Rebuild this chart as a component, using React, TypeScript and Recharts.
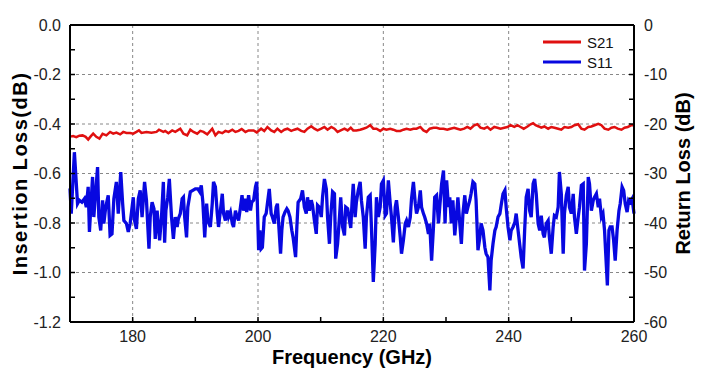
import React from 'react';
import { LineChart, Line, XAxis, YAxis, ReferenceLine, Legend } from 'recharts';

const FONT = "Arial, 'Liberation Sans', Helvetica, sans-serif";

// S21 insertion loss (dB), left axis
const s21Freq = [
  170.0, 170.5, 171.0, 171.5, 172.0, 172.5, 172.9, 173.3, 173.7, 174.2, 174.7, 175.2, 175.8, 176.4, 176.9, 177.4, 178.0, 178.5, 179.0, 179.6,
  180.1, 180.6, 181.0, 181.4, 182.2, 183.0, 183.8, 184.2, 184.9, 185.2, 185.7, 186.3, 186.8, 187.6, 188.1, 188.7, 189.2, 189.7, 190.3, 190.8,
  191.3, 191.9, 192.7, 193.2, 193.7, 194.3, 194.8, 195.3, 195.9, 196.4, 196.9, 197.4, 198.0, 198.5, 199.3, 199.8, 200.5, 201.0, 201.5, 202.1,
  202.6, 203.1, 203.7, 204.2, 204.7, 205.3, 205.8, 206.3, 206.9, 207.4, 207.9, 208.5, 209.0, 209.5, 210.1, 210.6, 211.1, 211.7, 212.2, 212.7,
  213.2, 213.8, 214.3, 214.8, 215.2, 215.7, 216.3, 216.8, 217.3, 217.9, 218.4, 218.9, 219.5, 220.0, 220.5, 221.1, 221.6, 222.1, 222.7, 223.2,
  223.7, 224.3, 224.8, 225.3, 225.9, 226.4, 226.9, 227.4, 228.0, 228.5, 229.0, 229.6, 230.2, 230.7, 231.3, 231.8, 232.3, 232.9, 233.4, 233.9,
  234.5, 235.0, 235.5, 236.1, 236.6, 237.1, 237.7, 238.2, 238.7, 239.3, 239.8, 240.3, 240.9, 241.4, 241.9, 242.4, 243.0, 243.5, 243.9, 244.3,
  244.8, 245.2, 245.7, 246.3, 246.8, 247.3, 247.9, 248.4, 248.9, 249.5, 250.0, 250.5, 251.1, 251.6, 252.1, 252.7, 253.2, 253.7, 254.3, 254.8,
  255.3, 255.9, 256.4, 256.9, 257.4, 258.0, 258.5, 259.0, 259.6, 260.0,
];
const s21Loss = [
  -0.451, -0.449, -0.453, -0.447, -0.446, -0.452, -0.463, -0.450, -0.439, -0.452, -0.459, -0.440, -0.446, -0.432, -0.439, -0.435, -0.442, -0.432, -0.436, -0.436,
  -0.439, -0.432, -0.426, -0.436, -0.432, -0.435, -0.432, -0.423, -0.432, -0.428, -0.437, -0.426, -0.432, -0.419, -0.439, -0.446, -0.423, -0.432, -0.439, -0.428,
  -0.432, -0.442, -0.419, -0.446, -0.432, -0.437, -0.428, -0.432, -0.423, -0.432, -0.428, -0.420, -0.432, -0.426, -0.426, -0.434, -0.419, -0.428, -0.412, -0.426,
  -0.432, -0.419, -0.432, -0.423, -0.419, -0.428, -0.423, -0.419, -0.428, -0.432, -0.419, -0.409, -0.419, -0.426, -0.419, -0.412, -0.423, -0.412, -0.419, -0.432,
  -0.426, -0.419, -0.426, -0.415, -0.426, -0.426, -0.423, -0.419, -0.415, -0.405, -0.419, -0.419, -0.428, -0.419, -0.423, -0.419, -0.423, -0.428, -0.428, -0.423,
  -0.419, -0.423, -0.419, -0.419, -0.412, -0.426, -0.432, -0.419, -0.415, -0.415, -0.419, -0.419, -0.423, -0.419, -0.415, -0.419, -0.423, -0.419, -0.412, -0.419,
  -0.405, -0.401, -0.415, -0.419, -0.412, -0.423, -0.412, -0.415, -0.419, -0.415, -0.412, -0.405, -0.412, -0.405, -0.412, -0.419, -0.410, -0.401, -0.397, -0.405,
  -0.410, -0.415, -0.410, -0.419, -0.412, -0.415, -0.419, -0.423, -0.412, -0.415, -0.412, -0.405, -0.401, -0.419, -0.423, -0.412, -0.410, -0.405, -0.399, -0.405,
  -0.419, -0.423, -0.415, -0.412, -0.419, -0.423, -0.415, -0.412, -0.405, -0.405,
];

// S11 return loss (dB), right axis
const s11Freq = [
  170.0, 170.2, 170.7, 171.2, 171.5, 171.9, 172.3, 172.6, 172.9, 173.1, 173.6, 173.8, 174.4, 174.6, 174.9, 175.2, 175.4, 175.7, 176.1, 176.4,
  176.7, 177.0, 177.4, 177.7, 178.1, 178.4, 178.6, 179.0, 179.3, 179.6, 180.1, 180.3, 180.6, 180.9, 181.2, 181.5, 181.9, 182.2, 182.6, 182.8,
  183.1, 183.4, 183.6, 183.9, 184.3, 184.6, 184.9, 185.1, 185.3, 185.6, 185.85, 186.2, 186.5, 186.8, 187.1, 187.3, 187.6, 187.9, 188.1, 188.3,
  188.6, 188.8, 189.2, 189.6, 190.0, 190.4, 190.7, 190.95, 191.2, 191.5, 191.8, 192.0, 192.4, 192.7, 192.9, 193.2, 193.5, 193.7, 194.0, 194.3,
  194.5, 194.8, 195.1, 195.3, 195.6, 195.9, 196.1, 196.4, 196.6, 196.9, 197.2, 197.45, 197.7, 198.0, 198.2, 198.5, 198.8, 199.0, 199.3, 199.6,
  199.8, 200.1, 200.3, 200.5, 200.7, 201.0, 201.3, 201.5, 201.8, 202.1, 202.3, 202.6, 202.9, 203.1, 203.4, 203.6, 203.8, 204.0, 204.3, 204.6,
  204.8, 205.1, 205.4, 205.6, 206.0, 206.2, 206.4, 206.8, 207.1, 207.4, 207.7, 207.9, 208.2, 208.5, 208.7, 209.0, 209.3, 209.5, 209.8, 210.1,
  210.3, 210.6, 210.9, 211.1, 211.4, 211.6, 211.9, 212.2, 212.4, 212.7, 213.0, 213.2, 213.5, 213.8, 214.0, 214.3, 214.6, 214.8, 215.0, 215.2,
  215.5, 215.7, 216.0, 216.3, 216.5, 216.8, 217.1, 217.3, 217.6, 217.9, 218.1, 218.4, 218.7, 218.9, 219.2, 219.5, 219.7, 220.0, 220.3, 220.5,
  220.8, 221.1, 221.3, 221.6, 221.9, 222.1, 222.4, 222.7, 222.9, 223.2, 223.5, 223.7, 224.0, 224.3, 224.5, 224.8, 225.1, 225.3, 225.6, 225.9,
  226.1, 226.4, 226.6, 226.9, 227.2, 227.4, 227.7, 228.0, 228.2, 228.5, 228.8, 229.0, 229.3, 229.6, 229.85, 230.1, 230.4, 230.6, 230.85, 231.1,
  231.4, 231.65, 231.9, 232.2, 232.45, 232.7, 233.0, 233.25, 233.5, 233.8, 234.0, 234.3, 234.6, 234.8, 235.1, 235.4, 235.6, 235.9, 236.2, 236.4,
  236.7, 237.0, 237.2, 237.5, 237.8, 238.0, 238.3, 238.6, 238.8, 239.1, 239.4, 239.6, 239.9, 240.2, 240.4, 240.7, 241.0, 241.2, 241.5, 241.75,
  242.0, 242.3, 242.55, 242.8, 243.1, 243.35, 243.6, 243.9, 244.15, 244.4, 244.7, 244.95, 245.2, 245.5, 245.7, 246.0, 246.3, 246.5, 246.8, 247.1,
  247.3, 247.6, 247.9, 248.1, 248.4, 248.7, 248.9, 249.2, 249.5, 249.7, 250.0, 250.3, 250.5, 250.8, 251.1, 251.3, 251.6, 251.9, 252.1, 252.4,
  252.7, 252.9, 253.2, 253.5, 253.7, 254.0, 254.3, 254.5, 254.8, 255.05, 255.3, 255.6, 255.75, 256.0, 256.2, 256.5, 256.75, 257.0, 257.3, 257.6,
  257.8, 258.1, 258.35, 258.6, 258.9, 259.15, 259.4, 259.7, 260.0,
];
const s11Loss = [
  -33.0, -38.1, -25.7, -36.1, -35.4, -35.8, -35.1, -36.8, -32.7, -41.8, -30.7, -38.8, -28.7, -38.8, -41.5, -35.4, -40.1, -36.8, -34.4, -42.5,
  -42.2, -35.1, -31.7, -38.1, -29.7, -36.1, -39.5, -40.1, -41.8, -40.1, -34.8, -39.5, -41.2, -35.1, -33.4, -38.8, -31.7, -35.4, -45.2, -38.8,
  -35.8, -37.1, -43.2, -37.5, -43.5, -38.8, -31.7, -44.0, -37.5, -34.8, -31.1, -38.8, -43.2, -38.8, -40.8, -39.1, -38.1, -35.1, -34.8, -38.8,
  -42.9, -36.8, -33.7, -33.4, -33.1, -33.1, -33.7, -32.4, -35.8, -42.9, -36.1, -39.5, -40.8, -36.1, -31.7, -32.7, -38.1, -40.8, -37.5, -34.1,
  -38.1, -39.5, -37.5, -38.8, -37.8, -40.1, -40.8, -37.5, -38.5, -39.5, -36.8, -34.4, -37.5, -35.1, -37.8, -34.4, -37.5, -35.8, -35.4, -32.7,
  -31.7, -45.5, -41.5, -45.2, -44.9, -38.8, -38.1, -36.1, -33.1, -38.1, -38.8, -40.1, -36.8, -36.1, -42.2, -46.2, -41.5, -38.8, -37.8, -37.1,
  -37.5, -38.8, -41.5, -42.9, -46.9, -40.8, -35.8, -35.1, -33.4, -36.8, -38.1, -34.8, -37.5, -35.4, -36.4, -39.5, -42.2, -36.4, -36.8, -38.8,
  -34.8, -31.1, -33.1, -38.8, -44.2, -38.8, -33.7, -34.1, -47.2, -44.2, -38.8, -34.8, -40.8, -42.5, -36.8, -37.1, -39.5, -41.0, -36.1, -32.1,
  -38.8, -35.8, -33.4, -31.7, -35.4, -38.8, -45.2, -38.8, -34.8, -34.4, -40.8, -51.9, -44.2, -34.8, -38.8, -36.8, -32.1, -31.4, -38.5, -38.1,
  -31.4, -36.1, -38.8, -43.9, -36.8, -35.4, -38.8, -42.9, -46.2, -43.5, -40.1, -39.5, -40.8, -38.8, -35.1, -31.7, -36.1, -38.1, -36.8, -33.4,
  -36.8, -38.1, -38.8, -40.1, -42.2, -40.1, -47.6, -40.8, -34.8, -34.4, -40.1, -36.8, -32.1, -29.4, -40.1, -31.4, -36.8, -34.8, -40.1, -35.4,
  -42.5, -38.8, -34.8, -40.1, -44.2, -38.1, -34.4, -38.1, -36.8, -35.4, -34.1, -31.7, -32.1, -35.4, -45.5, -42.9, -40.1, -41.5, -44.9, -46.2,
  -46.9, -53.6, -47.6, -44.2, -41.5, -40.8, -38.8, -38.1, -36.4, -34.1, -33.4, -36.8, -40.8, -43.5, -41.5, -40.8, -39.8, -38.1, -41.5, -44.2,
  -46.9, -49.2, -41.5, -34.8, -33.1, -37.5, -38.8, -32.1, -31.1, -34.1, -40.1, -41.5, -38.5, -42.2, -42.9, -40.1, -39.5, -42.9, -46.2, -40.8,
  -38.5, -38.8, -36.8, -29.7, -34.1, -46.2, -38.1, -34.4, -32.7, -36.8, -38.1, -34.1, -38.8, -42.2, -38.8, -36.8, -32.4, -32.1, -49.6, -44.2,
  -30.7, -32.1, -37.5, -35.4, -34.8, -34.1, -36.8, -35.1, -38.8, -38.1, -41.5, -48.9, -52.6, -41.5, -40.8, -40.8, -43.5, -47.6, -41.5, -37.5,
  -36.1, -32.7, -33.4, -36.1, -37.8, -35.4, -35.8, -35.1, -38.1,
];

const seriesNames = ['S21', 'S11'];

const xTicks = [170, 180, 190, 200, 210, 220, 230, 240, 250, 260];
const xLabels = [180, 200, 220, 240, 260];
const xGrid = [180, 200, 220, 240];
const leftTicks = [-1.2, -1.1, -1.0, -0.9, -0.8, -0.7, -0.6, -0.5, -0.4, -0.3, -0.2, -0.1, 0];
const leftLabels = [-1.2, -1.0, -0.8, -0.6, -0.4, -0.2, 0];
const leftGrid = [-1.0, -0.8, -0.6, -0.4, -0.2];
const rightTicks = [-60, -55, -50, -45, -40, -35, -30, -25, -20, -15, -10, -5, 0];
const rightLabels = [-60, -50, -40, -30, -20, -10, 0];

const s21Data = s21Freq.map((f, i) => ({ f, v: s21Loss[i] }));
const s11Data = s11Freq.map((f, i) => ({ f, v: s11Loss[i] }));

const near = (arr: number[], v: number) => arr.some((a) => Math.abs(a - v) < 1e-6);

const tickStyle = { fontSize: 16, fill: '#222', fontFamily: FONT };
const axisLineStyle = { stroke: '#000', strokeWidth: 2 };
const tickLineStyle = { stroke: '#000', strokeWidth: 1.5 };

const LegendBox = (props: any) => {
  const items = [...(props.payload || [])].sort(
    (a: any, b: any) => seriesNames.indexOf(a.value) - seriesNames.indexOf(b.value)
  );
  return (
    <div style={{ fontFamily: FONT, fontSize: 15, color: '#111' }}>
      {items.map((it: any) => (
        <div key={it.value} style={{ display: 'flex', alignItems: 'center', height: 20 }}>
          <svg width={38} height={6} style={{ display: 'block' }}>
            <line x1={0} y1={3} x2={38} y2={3} stroke={it.color} strokeWidth={3} />
          </svg>
          <span style={{ marginLeft: 6 }}>{it.value}</span>
        </div>
      ))}
    </div>
  );
};

export default function App() {
  return (
    <div style={{ position: 'absolute', left: 0, top: 0, background: '#fff' }}>
      <LineChart width={702} height={379} margin={{ top: 25, right: 0, bottom: 0, left: 0 }}>
        <XAxis
          dataKey="f"
          type="number"
          domain={[170, 260]}
          ticks={xTicks}
          allowDuplicatedCategory={false}
          height={57}
          tickSize={-5}
          tickMargin={14}
          tick={tickStyle}
          axisLine={axisLineStyle}
          tickLine={tickLineStyle}
          tickFormatter={(v: number) => (near(xLabels, v) ? String(v) : '')}
          label={(p: any) => {
            const vb = p.viewBox;
            return (
              <text x={vb.x + vb.width / 2} y={vb.y + 35} textAnchor="middle" dominantBaseline="central"
                style={{ fontFamily: FONT, fontSize: 20, fontWeight: 'bold', fill: '#000' }}>
                Frequency (GHz)
              </text>
            );
          }}
        />
        <YAxis
          yAxisId="left"
          orientation="left"
          type="number"
          domain={[-1.2, 0]}
          ticks={leftTicks}
          width={70}
          tickSize={-5}
          tickMargin={14}
          tick={tickStyle}
          axisLine={axisLineStyle}
          tickLine={tickLineStyle}
          tickFormatter={(v: number) => (near(leftLabels, v) ? v.toFixed(1) : '')}
          label={(p: any) => {
            const vb = p.viewBox;
            const cx = vb.x + 20;
            const cy = vb.y + vb.height / 2;
            return (
              <text x={cx} y={cy} transform={`rotate(-90 ${cx} ${cy})`} textAnchor="middle" dominantBaseline="central"
                style={{ fontFamily: FONT, fontSize: 20, fontWeight: 'bold', fill: '#000', letterSpacing: 1.5 }}>
                Insertion Loss(dB)
              </text>
            );
          }}
        />
        <YAxis
          yAxisId="right"
          orientation="right"
          type="number"
          domain={[-60, 0]}
          ticks={rightTicks}
          width={68}
          tickSize={-5}
          tickMargin={15}
          tick={tickStyle}
          axisLine={axisLineStyle}
          tickLine={tickLineStyle}
          tickFormatter={(v: number) => (near(rightLabels, v) ? String(v) : '')}
          label={(p: any) => {
            const vb = p.viewBox;
            const cx = vb.x + 49;
            const cy = vb.y + vb.height / 2;
            return (
              <text x={cx} y={cy} transform={`rotate(-90 ${cx} ${cy})`} textAnchor="middle" dominantBaseline="central"
                style={{ fontFamily: FONT, fontSize: 20, fontWeight: 'bold', fill: '#000' }}>
                Return Loss (dB)
              </text>
            );
          }}
        />
        {leftGrid.map((g) => (
          <ReferenceLine key={'h' + g} yAxisId="left" y={g} stroke="#888" strokeDasharray="3 3" strokeWidth={1} />
        ))}
        {xGrid.map((g) => (
          <ReferenceLine key={'v' + g} yAxisId="left" x={g} stroke="#888" strokeDasharray="3 3" strokeWidth={1} />
        ))}
        <ReferenceLine yAxisId="left" y={0} stroke="#000" strokeWidth={2} />
        <Legend
          layout="vertical"
          align="center"
          verticalAlign="middle"
          wrapperStyle={{ position: 'absolute', top: 32, left: 543, width: 90 }}
          content={<LegendBox />}
        />
        <Line
          yAxisId="left"
          data={s21Data}
          dataKey="v"
          name="S21"
          type="linear"
          stroke="#e01010"
          strokeWidth={2.5}
          dot={false}
          isAnimationActive={false}
        />
        <Line
          yAxisId="right"
          data={s11Data}
          dataKey="v"
          name="S11"
          type="linear"
          stroke="#0808e0"
          strokeWidth={3.3}
          dot={false}
          isAnimationActive={false}
        />
      </LineChart>
    </div>
  );
}
